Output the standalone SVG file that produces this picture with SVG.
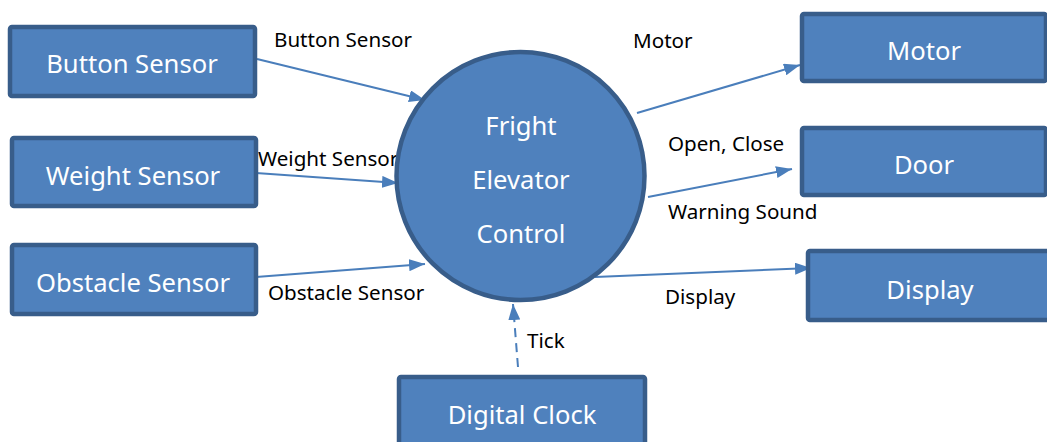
<svg xmlns="http://www.w3.org/2000/svg" width="1047" height="442" viewBox="0 0 1047 442">
  <defs>
    <style>
      .box { fill: #4F81BD; stroke: #385D8A; stroke-width: 4.5; }
      .node-text { font-family: "Noto Sans", "Open Sans", sans-serif; font-size: 25.6px; fill: #FFFFFF; text-anchor: middle; }
      .flow { fill: none; stroke: #4A7EBB; stroke-width: 2; marker-end: url(#arrow); }
      .dashed { stroke-dasharray: 9 6; }
      .label { font-family: "Noto Sans", "Open Sans", sans-serif; font-size: 20.6px; fill: #000000; }
    </style>
    <marker id="arrow" markerUnits="userSpaceOnUse" markerWidth="16" markerHeight="12" viewBox="0 0 16 12" refX="16" refY="6" orient="auto">
      <path d="M0,0 L16,6 L0,12 Z" fill="#4A7EBB"/>
    </marker>
  </defs>

  <!-- data flows -->
  <g id="connectors">
    <line class="flow" x1="257" y1="59" x2="425" y2="100"/>
    <line class="flow" x1="256" y1="173" x2="398" y2="183"/>
    <line class="flow" x1="256" y1="277" x2="425" y2="264"/>
    <line class="flow" x1="637" y1="113" x2="800" y2="65"/>
    <line class="flow" x1="648" y1="197" x2="792" y2="169"/>
    <line class="flow" x1="595" y1="277" x2="811" y2="268"/>
    <line class="flow dashed" x1="518" y1="367" x2="513" y2="304"/>
    <text class="label" x="274" y="47">Button Sensor</text>
    <text class="label" x="258" y="166">Weight Sensor</text>
    <text class="label" x="268" y="300">Obstacle Sensor</text>
    <text class="label" x="633" y="48">Motor</text>
    <text class="label" x="668" y="151">Open, Close</text>
    <text class="label" x="668" y="219">Warning Sound</text>
    <text class="label" x="665" y="304">Display</text>
    <text class="label" x="527" y="348">Tick</text>
  </g>

  <!-- central process -->
  <g id="elevator-control">
    <circle class="box" cx="520.5" cy="176" r="124"/>
    <text class="node-text" x="521" y="135">Fright</text>
    <text class="node-text" x="521" y="189">Elevator</text>
    <text class="node-text" x="521" y="243">Control</text>
  </g>

  <!-- external entities -->
  <g id="button-sensor">
    <rect class="box" x="10" y="27" width="245" height="69" rx="2"/>
    <text class="node-text" x="132" y="73">Button Sensor</text>
  </g>
  <g id="weight-sensor">
    <rect class="box" x="12" y="138" width="244" height="68" rx="2"/>
    <text class="node-text" x="133" y="185">Weight Sensor</text>
  </g>
  <g id="obstacle-sensor">
    <rect class="box" x="12" y="245" width="244" height="69" rx="2"/>
    <text class="node-text" x="133" y="292">Obstacle Sensor</text>
  </g>
  <g id="motor">
    <rect class="box" x="802" y="14" width="244" height="67" rx="2"/>
    <text class="node-text" x="924" y="60">Motor</text>
  </g>
  <g id="door">
    <rect class="box" x="802" y="128" width="244" height="67" rx="2"/>
    <text class="node-text" x="924" y="174">Door</text>
  </g>
  <g id="display">
    <rect class="box" x="808" y="251" width="244" height="69" rx="2"/>
    <text class="node-text" x="930" y="299">Display</text>
  </g>
  <g id="digital-clock">
    <rect class="box" x="399" y="377" width="246" height="69" rx="2"/>
    <text class="node-text" x="522" y="424">Digital Clock</text>
  </g>
</svg>
